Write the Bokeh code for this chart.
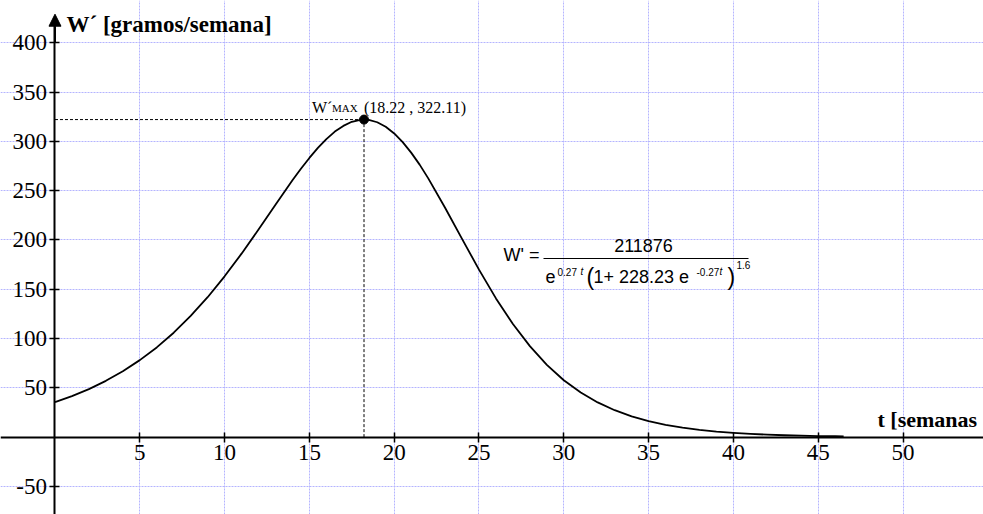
from bokeh.plotting import figure
from bokeh.models import FixedTicker, Arrow, NormalHead
from bokeh.core.properties import value
from bokeh.embed import file_html
from bokeh.resources import INLINE

# ---- data ----
t_weeks = [0, 1, 2, 3, 4, 5, 6, 7, 8, 9, 10, 11, 12, 13, 14, 14.5, 15, 15.5, 16, 16.5,
           17, 17.5, 18, 18.22, 18.5, 19, 19.5, 20, 20.5, 21, 21.5, 22, 23, 24, 25, 26,
           27, 28, 29, 30, 31, 32, 33, 34, 35, 36, 37, 38, 39, 40, 41, 42, 43, 44, 45,
           46, 46.5]
w_rate = [35.4, 41.6, 48.7, 57.1, 66.9, 78.1, 91.0, 105.9, 122.9, 141.9, 163.1, 186.1,
          210.5, 235.7, 260.5, 272.2, 283.2, 293.4, 302.3, 309.9,
          315.7, 319.9, 321.8, 322.11, 321.8, 319.4, 314.8, 308.0, 299.2, 288.6, 276.4,
          262.7, 232.7, 201.1, 169.9, 140.7,
          114.7, 92.3, 73.3, 57.7, 45.2, 35.2, 27.3, 21.0, 16.2, 12.5, 9.6, 7.3, 5.6,
          4.3, 3.3, 2.5, 1.9, 1.5, 1.1,
          0.9, 0.7]
t_max = 18.22
w_max = 322.11
max_coords = "(18.22 , 322.11)"
x_ticks = [5, 10, 15, 20, 25, 30, 35, 40, 45, 50]
y_ticks = [-50, 50, 100, 150, 200, 250, 300, 350, 400]
x_title = "t [semanas"
y_title = "W\u00b4 [gramos/semana]"

# ---- figure ----
W, H = 983, 514
X0, X1 = -3.213, 54.746
Y0, Y1 = -78.5, 442.9


def dx(px):
    return X0 + px / W * (X1 - X0)


def dy(py):
    return Y1 - py / H * (Y1 - Y0)


p = figure(width=W, height=H, x_range=(X0, X1), y_range=(Y0, Y1),
           output_backend="svg", toolbar_location=None, min_border=0)
p.outline_line_color = None
p.background_fill_color = "white"
p.border_fill_color = "white"

for ax, ticks in ((p.xaxis, x_ticks), (p.yaxis, y_ticks)):
    ax.fixed_location = 0
    ax.ticker = FixedTicker(ticks=ticks)
    ax.axis_line_width = 2
    ax.axis_line_color = "black"
    ax.major_tick_line_color = "black"
    ax.major_tick_line_width = 1.5
    ax.major_tick_in = 5
    ax.major_tick_out = 5
    ax.minor_tick_line_color = None
    ax.major_label_text_font = "Liberation Serif"
    ax.major_label_text_font_size = "23px"
    ax.major_label_text_color = "black"
    ax.major_label_standoff = 3

p.yaxis.major_label_overrides = {-50: "-50"}
p.yaxis.bounds = (-90, 426)

p.grid.grid_line_color = "#b4b4ff"
p.grid.grid_line_dash = "2 1"
p.grid.grid_line_width = 1

# y-axis arrow head
p.add_layout(Arrow(end=NormalHead(size=12, fill_color="black", line_color="black"),
                   x_start=0, y_start=400, x_end=0, y_end=429,
                   line_width=2, line_color="black"))

# max guides
p.segment(x0=[0, t_max], y0=[w_max, 0], x1=[t_max, t_max], y1=[w_max, w_max],
          line_color="black", line_width=1, line_dash="3 2")

# curve
p.line(t_weeks, w_rate, line_color="black", line_width=1.8, line_join="round")
p.scatter([t_max], [w_max], size=9, color="black")

# max label
serif = value("Liberation Serif")
p.text(x=[t_max], y=[w_max], text=["W\u00b4"], x_offset=-52, y_offset=-12,
       text_font=serif, text_font_size="16px", text_baseline="alphabetic",
       text_align="left", text_color="black")
p.text(x=[t_max], y=[w_max], text=["MAX"], x_offset=-32, y_offset=-12,
       text_font=serif, text_font_size="11px", text_baseline="alphabetic",
       text_align="left", text_color="black")
p.text(x=[t_max], y=[w_max], text=[max_coords], x_offset=0, y_offset=-12,
       text_font=serif, text_font_size="16px", text_baseline="alphabetic",
       text_align="left", text_color="black")

# axis titles
p.text(x=[dx(66)], y=[dy(24)], text=[y_title], text_font=serif,
       text_font_size="23px", text_font_style="bold", text_baseline="middle",
       text_align="left", text_color="black")
p.text(x=[dx(877)], y=[dy(419)], text=[x_title], text_font=serif,
       text_font_size="22px", text_font_style="bold", text_baseline="middle",
       text_align="left", text_color="black")

# formula
sans = value("Liberation Sans")
pieces = [
    ("W' =", 503, 254, "18px", "left", "normal"),
    ("211876", 643, 245, "18px", "center", "normal"),
    ("e", 545, 276, "18px", "left", "normal"),
    ("0.27", 557, 271, "10px", "left", "normal"),
    ("t", 580, 271, "10px", "left", "italic"),
    ("(", 586, 276, "23px", "left", "normal"),
    ("1+ 228.23 e", 593, 276, "18px", "left", "normal"),
    ("-0.27", 696, 271, "10px", "left", "normal"),
    ("t", 719, 271, "10px", "left", "italic"),
    (")", 727, 276, "23px", "left", "normal"),
    ("1.6", 736, 264, "10px", "left", "normal"),
]
for txt, px, py, fs, al, st in pieces:
    p.text(x=[dx(px)], y=[dy(py)], text=[txt], text_font=sans, text_font_size=fs,
           text_font_style=st, text_baseline="middle", text_align=al,
           text_color="black")
p.segment(x0=[dx(543)], y0=[dy(258)], x1=[dx(748)], y1=[dy(258)],
          line_color="black", line_width=1)

open("out.html", "w").write(file_html(p, INLINE))
